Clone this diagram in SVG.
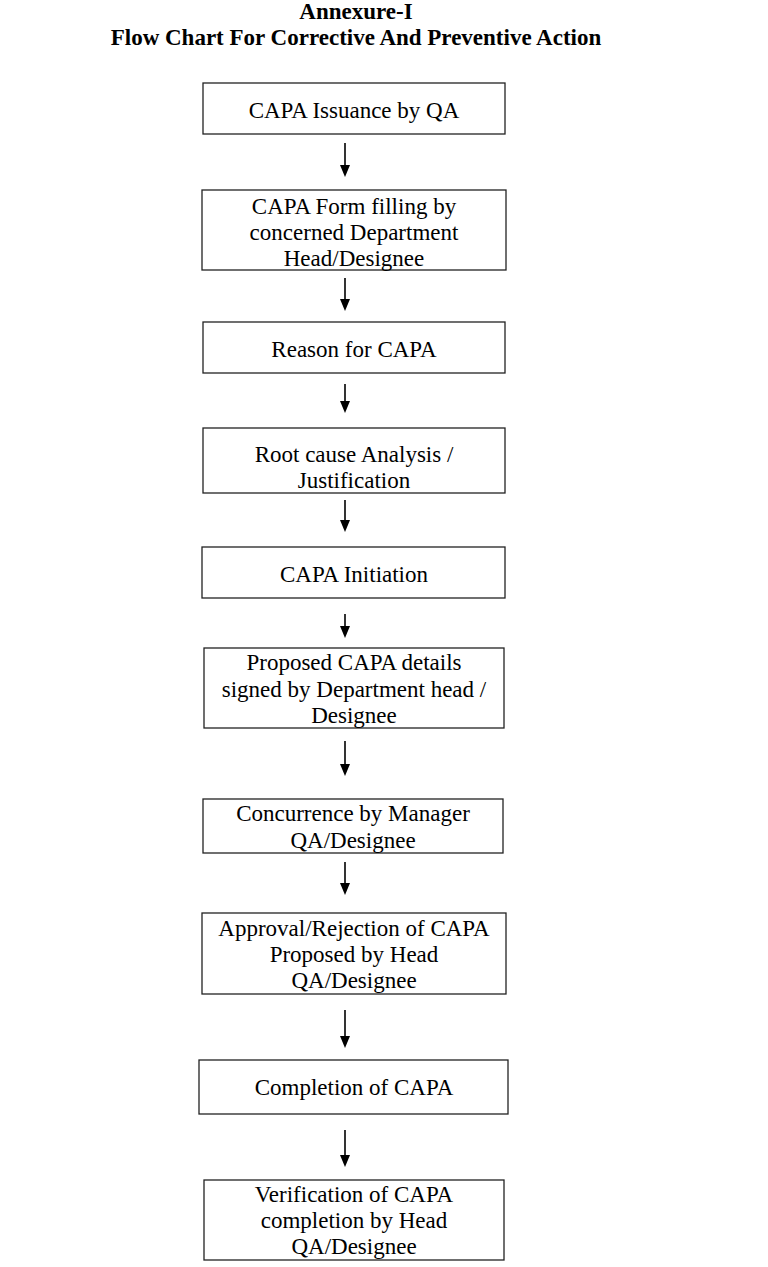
<svg xmlns="http://www.w3.org/2000/svg" width="768" height="1267" viewBox="0 0 768 1267">
<style>
.box{fill:#fff;stroke:#222;stroke-width:1.3}
.t{font-family:"Liberation Serif","Times New Roman",serif;font-size:23px;fill:#000;text-anchor:middle}
.h{font-family:"Liberation Serif","Times New Roman",serif;font-size:23px;font-weight:bold;fill:#000;text-anchor:middle}
.c{stroke:#000;stroke-width:1.6;fill:none;marker-end:url(#ah)}
</style>
<defs>
<marker id="ah" viewBox="0 0 12 10" refX="0" refY="5" markerWidth="12" markerHeight="10" markerUnits="userSpaceOnUse" orient="auto">
<path d="M0,0 L12,5 L0,10 Z" fill="#000"/>
</marker>
</defs>
<rect width="768" height="1267" fill="#fff"/>
<g id="title">
<text class="h" x="356" y="19">Annexure-I</text>
<text class="h" x="356" y="45">Flow Chart For Corrective And Preventive Action</text>
</g>
<g id="connectors">
<line class="c" x1="345" y1="143" x2="345" y2="165"/>
<line class="c" x1="345" y1="278" x2="345" y2="299"/>
<line class="c" x1="345" y1="384" x2="345" y2="401"/>
<line class="c" x1="345" y1="500" x2="345" y2="520"/>
<line class="c" x1="345" y1="614" x2="345" y2="626"/>
<line class="c" x1="345" y1="741" x2="345" y2="764"/>
<line class="c" x1="345" y1="862" x2="345" y2="883"/>
<line class="c" x1="345" y1="1010" x2="345" y2="1036"/>
<line class="c" x1="345" y1="1130" x2="345" y2="1155"/>
</g>
<g id="n1"><rect class="box" x="203" y="83" width="302" height="51"/>
<text class="t" x="354" y="118">CAPA Issuance by QA</text></g>
<g id="n2"><rect class="box" x="202" y="190" width="304" height="80"/>
<text class="t" x="354" y="214">CAPA Form filling by</text>
<text class="t" x="354" y="240">concerned Department</text>
<text class="t" x="354" y="266">Head/Designee</text></g>
<g id="n3"><rect class="box" x="203" y="322" width="302" height="51"/>
<text class="t" x="354" y="357">Reason for CAPA</text></g>
<g id="n4"><rect class="box" x="203" y="428" width="302" height="65"/>
<text class="t" x="354" y="462">Root cause Analysis /</text>
<text class="t" x="354" y="488">Justification</text></g>
<g id="n5"><rect class="box" x="202" y="547" width="303" height="51"/>
<text class="t" x="354" y="582">CAPA Initiation</text></g>
<g id="n6"><rect class="box" x="204" y="648" width="300" height="80"/>
<text class="t" x="354" y="670">Proposed CAPA details</text>
<text class="t" x="354" y="697">signed by Department head /</text>
<text class="t" x="354" y="723">Designee</text></g>
<g id="n7"><rect class="box" x="203" y="799" width="300" height="54"/>
<text class="t" x="353" y="821">Concurrence by Manager</text>
<text class="t" x="353" y="848">QA/Designee</text></g>
<g id="n8"><rect class="box" x="202" y="913" width="304" height="81"/>
<text class="t" x="354" y="936">Approval/Rejection of CAPA</text>
<text class="t" x="354" y="962">Proposed by Head</text>
<text class="t" x="354" y="988">QA/Designee</text></g>
<g id="n9"><rect class="box" x="199" y="1060" width="309" height="54"/>
<text class="t" x="354" y="1095">Completion of CAPA</text></g>
<g id="n10"><rect class="box" x="204" y="1180" width="300" height="80"/>
<text class="t" x="354" y="1202">Verification of CAPA</text>
<text class="t" x="354" y="1228">completion by Head</text>
<text class="t" x="354" y="1254">QA/Designee</text></g>
</svg>
